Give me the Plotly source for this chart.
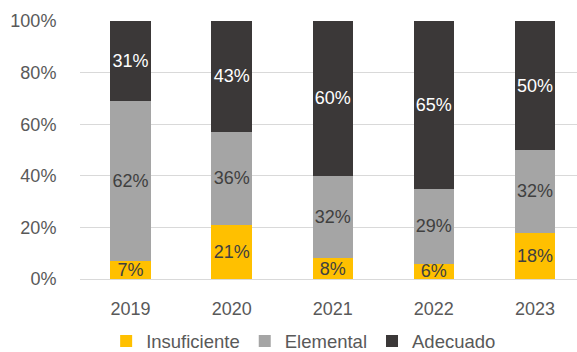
import plotly.graph_objects as go

years = ["2019", "2020", "2021", "2022", "2023"]
insuficiente = [7, 21, 8, 6, 18]
elemental = [62, 36, 32, 29, 32]
adecuado = [31, 43, 60, 65, 50]
tick_vals = [0, 20, 40, 60, 80, 100]
tick_text = ["0%", "20%", "40%", "60%", "80%", "100%"]

FONT = "Liberation Sans"
series = [
    ("Insuficiente", insuficiente, "#FFC000", "#404040"),
    ("Elemental", elemental, "#A5A5A5", "#404040"),
    ("Adecuado", adecuado, "#3B3838", "#FFFFFF"),
]

fig = go.Figure()
for name, vals, color, tcolor in series:
    fig.add_trace(go.Bar(
        x=years, y=vals, name=name,
        marker=dict(color=color, line=dict(width=0)),
        width=0.4,
        text=[f"{v}%" for v in vals],
        textposition="inside",
        insidetextanchor="middle",
        constraintext="none",
        textangle=0,
        textfont=dict(family=FONT, size=18, color=tcolor),
        cliponaxis=False,
    ))

fig.update_layout(
    barmode="stack",
    width=577, height=352,
    margin=dict(l=80, r=0, t=21, b=73),
    paper_bgcolor="white", plot_bgcolor="white",
    font=dict(family=FONT, size=18, color="#595959"),
    showlegend=True,
    legend=dict(orientation="h", x=0.45, xanchor="center",
                yref="container", y=0.03, yanchor="middle",
                font=dict(family=FONT, size=18.5, color="#595959"),
                traceorder="normal", itemclick=False,
                bgcolor="rgba(0,0,0,0)"),
    xaxis=dict(range=[-0.5, 4.416], showgrid=False, showline=False, zeroline=False,
               ticks="outside", ticklen=13, tickcolor="rgba(0,0,0,0)",
               tickfont=dict(family=FONT, size=18, color="#595959")),
    yaxis=dict(range=[0, 100], tickvals=tick_vals, ticktext=tick_text,
               showgrid=True, gridcolor="#D9D9D9", gridwidth=1,
               zeroline=True, zerolinecolor="#D9D9D9", zerolinewidth=1,
               showline=False,
               ticks="outside", ticklen=19, tickcolor="rgba(0,0,0,0)",
               tickfont=dict(family=FONT, size=18, color="#595959")),
)

fig.write_html("out.html")
